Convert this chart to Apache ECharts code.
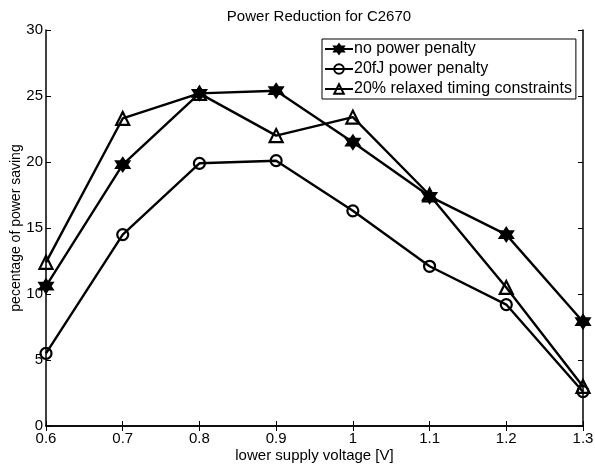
<!DOCTYPE html>
<html><head><meta charset="utf-8">
<script src="https://cdn.jsdelivr.net/npm/echarts@6/dist/echarts.min.js"></script>
<style>html,body{margin:0;padding:0;background:#fff}#c{width:595px;height:466px}</style>
</head><body><div id="c"></div>
<script>
const voltages = [0.6, 0.7, 0.8, 0.9, 1.0, 1.1, 1.2, 1.3];
const noPenalty = [10.6, 19.8, 25.2, 25.4, 21.5, 17.4, 14.5, 7.9];
const fJPenalty = [5.5, 14.5, 19.9, 20.1, 16.3, 12.1, 9.2, 2.6];
const relaxed = [12.4, 23.3, 25.2, 22.0, 23.4, 17.5, 10.5, 3.0];
const seriesNames = ['no power penalty', '20fJ power penalty', '20% relaxed timing constraints'];
const titleText = 'Power Reduction for C2670';
const xName = 'lower supply voltage [V]';
const yName = 'pecentage of power saving';

const FONT = '"Liberation Sans", Arial, Helvetica, sans-serif';
const hexagram = 'path://M10,0L12.887,5L18.66,5L15.77,10L18.66,15L12.887,15L10,20L7.113,15L1.34,15L4.23,10L1.34,5L7.113,5Z';

function pair(v){ return voltages.map((x,i)=>[x, v[i]]); }
function mk(name, data, symbol, size, fill){
  return {
    name, type:'line', data: pair(data), symbol, symbolSize: size,
    lineStyle:{color:'#000', width:2.4},
    itemStyle:{color: fill || 'rgba(255,255,255,0)', borderColor:'#000', borderWidth:2.2},
    emphasis:{disabled:true}, animation:false, z: 3
  };
}
const chart = echarts.init(document.getElementById('c'), null, {renderer:'canvas'});
const axisCommon = {
  axisLine:{show:true, lineStyle:{color:'#000', width:1.5}},
  axisTick:{show:true, inside:true, length:5, lineStyle:{color:'#000', width:1}},
  splitLine:{show:false}
};
chart.setOption({
  animation:false,
  title:{text:titleText, left:314, top:4, textAlign:'center',
    textStyle:{fontFamily:FONT, fontSize:15, fontWeight:'normal', color:'#000'}},
  grid:{left:46, right:12, top:30, bottom:40, outerBoundsMode:'none', containLabel:false},
  legend:{
    data: seriesNames, orient:'vertical', left:322, top:39,
    width: 251, itemWidth:28, itemHeight:12, itemGap:4,
    padding:[2,4,2,2], borderColor:'#000', borderWidth:1, backgroundColor:'#fff',
    textStyle:{fontFamily:FONT, fontSize:16, color:'#000', padding:[0,0,0,-4]}
  },
  xAxis:[
    Object.assign({type:'value', min:0.6, max:1.3, interval:0.1, position:'bottom',
      name:xName, nameLocation:'middle', nameGap:22, nameMoveOverlap:false,
      nameTextStyle:{fontFamily:FONT, fontSize:15, color:'#000'},
      axisLabel:{fontFamily:FONT, fontSize:15, color:'#000', margin:5,
        formatter:v=>String(Math.round(v*10)/10)}}, axisCommon),
    Object.assign({type:'value', min:0.6, max:1.3, interval:0.1, position:'top',
      axisLabel:{show:false}}, axisCommon)
  ],
  yAxis:[
    Object.assign({type:'value', min:0, max:30, interval:5, position:'left',
      name:yName, nameLocation:'middle', nameGap:23, nameMoveOverlap:false,
      nameTextStyle:{fontFamily:FONT, fontSize:14, color:'#000'},
      axisLabel:{fontFamily:FONT, fontSize:15, color:'#000', margin:3}}, axisCommon),
    Object.assign({type:'value', min:0, max:30, interval:5, position:'right',
      axisLabel:{show:false}}, axisCommon)
  ],
  series:[
    mk(seriesNames[0], noPenalty, hexagram, 13, '#000'),
    mk(seriesNames[1], fJPenalty, 'circle', 11),
    mk(seriesNames[2], relaxed, 'triangle', 13)
  ]
});
</script></body></html>
